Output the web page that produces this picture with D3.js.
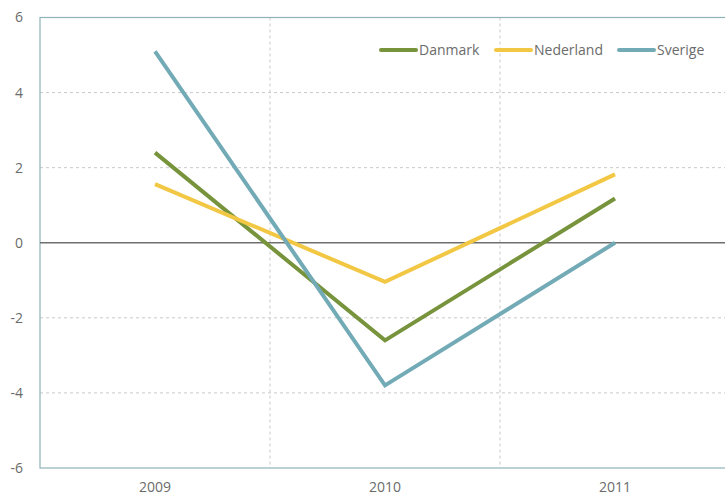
<!DOCTYPE html>
<html>
<head>
<meta charset="utf-8">
<script src="https://cdn.jsdelivr.net/npm/d3@7"></script>
<style>
  html, body { margin: 0; padding: 0; background: #fff; }
  svg { display: block; font-family: "Open Sans", "DejaVu Sans", sans-serif; }
</style>
</head>
<body>
<svg id="chart" width="725" height="495"></svg>
<script>
// Annual change by country
const years = ["2009", "2010", "2011"];
const danmark = [2.4, -2.6, 1.18];
const nederland = [1.56, -1.04, 1.82];
const sverige = [5.1, -3.8, 0.0];
const yTicks = [-6, -4, -2, 0, 2, 4, 6];

const seriesNames = ["Danmark", "Nederland", "Sverige"];
const seriesColors = ["#77933c", "#f2c744", "#72aab6"];
const series = [danmark, nederland, sverige].map((values, i) => ({
  name: seriesNames[i], color: seriesColors[i], values
}));

const svg = d3.select("#chart");
const plotLeft = 40, plotRight = 730, plotTop = 17.5, plotBottom = 468;
const labelColor = "#6b6b6b";

const x = d3.scaleBand().domain(years).range([plotLeft, plotRight]).paddingInner(0).paddingOuter(0);
const y = d3.scaleLinear().domain([-6, 6]).range([plotBottom, plotTop]);

// horizontal grid
svg.append("g").selectAll("line")
  .data(yTicks.filter(t => t !== 0 && t !== 6 && t !== -6))
  .join("line")
  .attr("x1", plotLeft).attr("x2", plotRight)
  .attr("y1", d => y(d)).attr("y2", d => y(d))
  .attr("stroke", "#c9c9c9").attr("stroke-width", 1)
  .attr("stroke-dasharray", "3,3");

// vertical grid at category boundaries
svg.append("g").selectAll("line")
  .data(years.slice(1))
  .join("line")
  .attr("x1", d => x(d)).attr("x2", d => x(d))
  .attr("y1", plotTop).attr("y2", plotBottom)
  .attr("stroke", "#c9c9c9").attr("stroke-width", 1)
  .attr("stroke-dasharray", "3,3");

// frame
svg.append("rect")
  .attr("x", plotLeft).attr("y", plotTop)
  .attr("width", plotRight - plotLeft).attr("height", plotBottom - plotTop)
  .attr("fill", "none").attr("stroke", "#8fb2b8").attr("stroke-width", 1.2);

// zero line
svg.append("line")
  .attr("x1", plotLeft).attr("x2", plotRight)
  .attr("y1", y(0)).attr("y2", y(0))
  .attr("stroke", "#6f6f6f").attr("stroke-width", 1.3);

// y axis labels (plain hyphen for negatives)
const yAxis = d3.axisLeft(y).tickValues(yTicks).tickSize(0).tickPadding(17)
  .tickFormat(d => String(d));
const gy = svg.append("g").attr("transform", `translate(${plotLeft},0)`).call(yAxis);
gy.select(".domain").remove();
gy.selectAll("text").attr("fill", labelColor).style("font-size", "14px")
  .style("font-family", "'Open Sans', sans-serif");

// x axis labels
const xAxis = d3.axisBottom(x).tickSize(0).tickPadding(14);
const gx = svg.append("g").attr("transform", `translate(0,${plotBottom})`).call(xAxis);
gx.select(".domain").remove();
gx.selectAll("text").attr("fill", labelColor).style("font-size", "14px")
  .style("font-family", "'Open Sans', sans-serif");

// lines
const line = d3.line()
  .x((d, i) => x(years[i]) + x.bandwidth() / 2)
  .y(d => y(d));

svg.append("g").selectAll("path")
  .data(series)
  .join("path")
  .attr("d", d => line(d.values))
  .attr("fill", "none")
  .attr("stroke", d => d.color)
  .attr("stroke-width", 4)
  .attr("stroke-linejoin", "miter");

// legend
const legendPos = [381, 496, 619];
const lg = svg.append("g").selectAll("g")
  .data(series)
  .join("g")
  .attr("transform", (d, i) => `translate(${legendPos[i]},50)`);
lg.append("line")
  .attr("x1", 0).attr("x2", 35)
  .attr("stroke", d => d.color).attr("stroke-width", 4).attr("stroke-linecap", "round");
lg.append("text")
  .attr("x", 38).attr("dy", "0.35em")
  .attr("fill", labelColor).style("font-size", "14px")
  .text(d => d.name);
</script>
</body>
</html>
